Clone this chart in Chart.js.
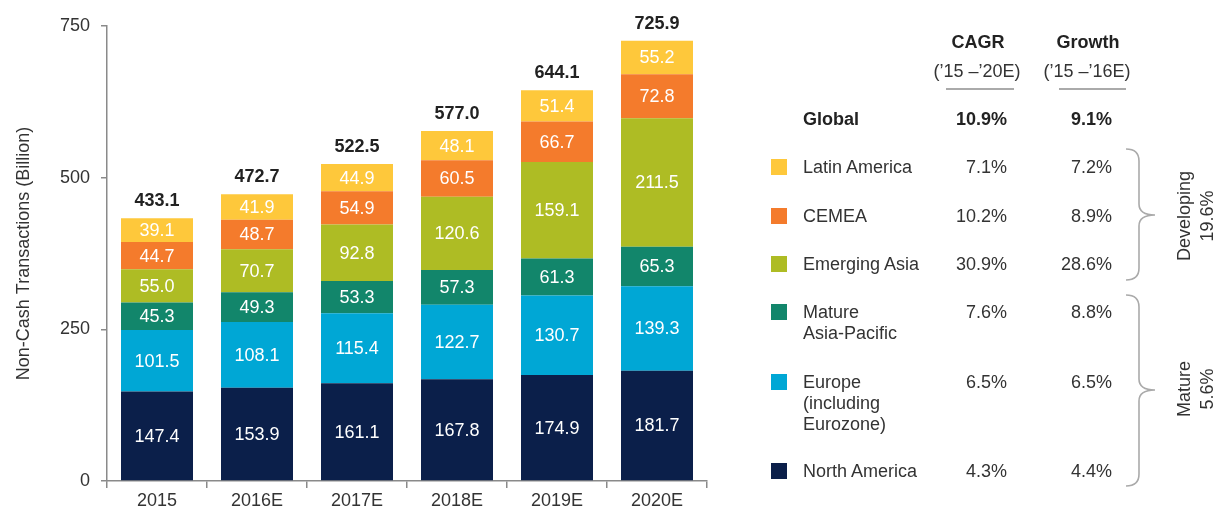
<!DOCTYPE html>
<html>
<head>
<meta charset="utf-8">
<script src="https://cdn.jsdelivr.net/npm/chart.js@4.4.1/dist/chart.umd.min.js"></script>
<style>
  body { margin: 0; background: #fff; }
  #wrap { position: relative; width: 1221px; height: 510px; font-family: "Liberation Sans", Arial, sans-serif; }
  #wrap canvas { position: absolute; left: 0; top: 0; }
  .t { position: absolute; font-size: 18px; line-height: 21px; color: #333; white-space: nowrap; }
  .b { font-weight: bold; color: #222; }
  .c { width: 120px; text-align: center; }
  .sw { position: absolute; width: 16px; height: 16px; }
  .rot { position: absolute; font-size: 18px; line-height: 21px; color: #333; white-space: nowrap; transform: translate(-50%, -50%) rotate(-90deg); }
</style>
</head>
<body>
<div id="wrap">
  <canvas id="chart" width="1221" height="510"></canvas>
  <div id="table"></div>
  <svg width="1221" height="510" style="position:absolute;left:0;top:0" fill="none" stroke="#aaa" stroke-width="1.6">
    <line x1="946" y1="89" x2="1014" y2="89" stroke-width="2"/>
    <line x1="1059" y1="89" x2="1126" y2="89" stroke-width="2"/>
    <path d="M1126,149 Q1139,149 1139,161 L1139,204 Q1139,215 1155,215 Q1139,215 1139,226 L1139,268 Q1139,280 1126,280"/>
    <path d="M1126,295 Q1139,295 1139,307 L1139,379 Q1139,390 1155,390 Q1139,390 1139,401 L1139,474 Q1139,486 1126,486"/>
  </svg>
</div>
<script>
// data
const years = ["2015", "2016E", "2017E", "2018E", "2019E", "2020E"];
const northAmerica = [147.4, 153.9, 161.1, 167.8, 174.9, 181.7];
const europe = [101.5, 108.1, 115.4, 122.7, 130.7, 139.3];
const matureAsiaPacific = [45.3, 49.3, 53.3, 57.3, 61.3, 65.3];
const emergingAsia = [55.0, 70.7, 92.8, 120.6, 159.1, 211.5];
const cemea = [44.7, 48.7, 54.9, 60.5, 66.7, 72.8];
const latinAmerica = [39.1, 41.9, 44.9, 48.1, 51.4, 55.2];
const totals = [433.1, 472.7, 522.5, 577.0, 644.1, 725.9];
const yTicks = [0, 250, 500, 750];

const regionNames = ["North America", "Europe (including Eurozone)", "Mature Asia-Pacific", "Emerging Asia", "CEMEA", "Latin America"];
const cagr = ["4.3%", "6.5%", "7.6%", "30.9%", "10.2%", "7.1%"];
const growth = ["4.4%", "6.5%", "8.8%", "28.6%", "8.9%", "7.2%"];
const globalCagr = "10.9%";
const globalGrowth = "9.1%";

const colors = ["#0b1f4a", "#00a7d5", "#12866b", "#aebc24", "#f47b2c", "#fec83b"];
const FONT = '"Liberation Sans", Arial, sans-serif';

const valueLabels = {
  id: "valueLabels",
  afterDatasetsDraw(chart) {
    const ctx = chart.ctx;
    ctx.save();
    ctx.textAlign = "center";
    ctx.textBaseline = "middle";
    ctx.font = "18px " + FONT;
    ctx.fillStyle = "#fff";
    chart.data.datasets.forEach((ds, i) => {
      chart.getDatasetMeta(i).data.forEach((bar, j) => {
        ctx.fillText(ds.data[j].toFixed(1), bar.x, (bar.y + bar.base) / 2 + 1);
      });
    });
    const top = chart.getDatasetMeta(chart.data.datasets.length - 1).data;
    ctx.font = "bold 18px " + FONT;
    ctx.fillStyle = "#222";
    totals.forEach((t, j) => ctx.fillText(t.toFixed(1), top[j].x, top[j].y - 17));
    ctx.restore();
  }
};

const seriesData = [northAmerica, europe, matureAsiaPacific, emergingAsia, cemea, latinAmerica];

new Chart(document.getElementById("chart"), {
  type: "bar",
  data: {
    labels: years,
    datasets: seriesData.map((d, i) => ({
      label: regionNames[i],
      data: d,
      backgroundColor: colors[i],
      borderWidth: 0,
      categoryPercentage: 1,
      barPercentage: 0.72
    }))
  },
  options: {
    responsive: false,
    animation: false,
    layout: { padding: { left: 0, right: 514, top: 26, bottom: 0 } },
    plugins: { legend: { display: false }, tooltip: { enabled: false } },
    scales: {
      x: {
        stacked: true,
        grid: { offset: true, drawOnChartArea: false, tickLength: 7, color: "#8a8a8a", lineWidth: 1.5 },
        border: { color: "#8a8a8a", width: 1.5 },
        ticks: { color: "#333", font: { family: FONT, size: 18 }, padding: 2 },
        afterFit: s => { s.height = 29; }
      },
      y: {
        stacked: true,
        min: 0,
        max: 750,
        afterBuildTicks: s => { s.ticks = yTicks.map(v => ({ value: v })); },
        grid: { drawOnChartArea: false, tickLength: 6, color: "#8a8a8a", lineWidth: 1.5 },
        border: { color: "#8a8a8a", width: 1.5 },
        ticks: { color: "#333", font: { family: FONT, size: 18 }, padding: 11 },
        title: {
          display: true,
          text: "Non-Cash Transactions (Billion)",
          color: "#333",
          font: { family: FONT, size: 18 },
          padding: { top: 13, bottom: 0 }
        },
        afterFit: s => { s.width = 107; }
      }
    }
  },
  plugins: [valueLabels]
});

// right-hand table
const table = document.getElementById("table");
function put(cls, text, css) {
  const el = document.createElement("div");
  el.className = cls;
  el.innerHTML = text;
  Object.assign(el.style, css);
  table.appendChild(el);
}
put("t b c", "CAGR", { left: "918px", top: "32px" });
put("t b c", "Growth", { left: "1028px", top: "32px" });
put("t c", "(’15 –’20E)", { left: "917px", top: "61px" });
put("t c", "(’15 –’16E)", { left: "1027px", top: "61px" });

put("t b", "Global", { left: "803px", top: "109px" });
put("t b", globalCagr, { right: "214px", top: "109px" });
put("t b", globalGrowth, { right: "109px", top: "109px" });

const rowY = [471, 382, 312, 264, 216, 167];
const rowText = ["North America", "Europe<br>(including<br>Eurozone)", "Mature<br>Asia-Pacific", "Emerging Asia", "CEMEA", "Latin America"];
rowY.forEach((y, i) => {
  const sw = document.createElement("div");
  sw.className = "sw";
  Object.assign(sw.style, { left: "771px", top: (y - 8) + "px", background: colors[i] });
  table.appendChild(sw);
  put("t", rowText[i], { left: "803px", top: (y - 10.5) + "px" });
  put("t", cagr[i], { right: "214px", top: (y - 10.5) + "px" });
  put("t", growth[i], { right: "109px", top: (y - 10.5) + "px" });
});

put("rot", "Developing", { left: "1184px", top: "216px" });
put("rot", "19.6%", { left: "1207px", top: "216px" });
put("rot", "Mature", { left: "1184px", top: "389px" });
put("rot", "5.6%", { left: "1207px", top: "389px" });
</script>
</body>
</html>
